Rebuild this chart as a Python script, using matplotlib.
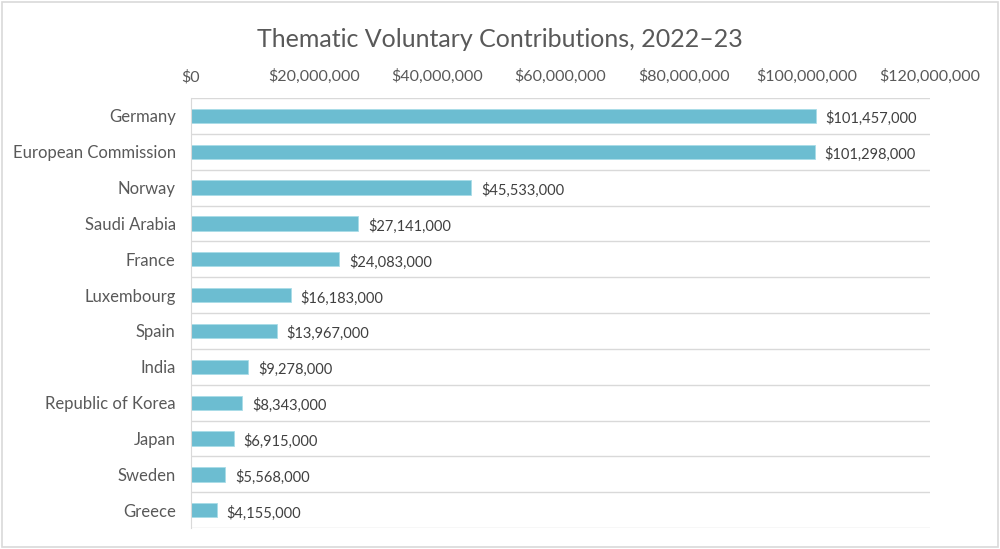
import matplotlib
matplotlib.use("Agg")
import matplotlib.pyplot as plt
from matplotlib.patches import Rectangle

plt.rcParams["font.family"] = ["Lato", "DejaVu Sans"]

donors = [
    "Germany", "European Commission", "Norway", "Saudi Arabia", "France",
    "Luxembourg", "Spain", "India", "Republic of Korea", "Japan", "Sweden", "Greece",
]
amounts = [
    101457000, 101298000, 45533000, 27141000, 24083000,
    16183000, 13967000, 9278000, 8343000, 6915000, 5568000, 4155000,
]
xticks = [0, 20000000, 40000000, 60000000, 80000000, 100000000, 120000000]

text_color = "#595959"
bar_color = "#6CBDD1"
grid_color = "#D9D9D9"

fig = plt.figure(figsize=(10, 5.49), dpi=100)
ax = fig.add_axes([0.191, 0.038, 0.739, 0.7835])

ypos = list(range(len(donors)))
ax.barh(ypos, amounts, height=0.4, color=bar_color, edgecolor="#A8DCE8", linewidth=0.6)

for y, v in zip(ypos, amounts):
    ax.annotate(f"${v:,.0f}", (v, y), xytext=(7, -2), textcoords="offset points",
                va="center", ha="left", fontsize=10.5, color="#404040")

ax.set_xlim(0, 120000000)
ax.set_ylim(len(donors) - 0.5, -0.5)
ax.set_xticks(xticks)
ax.set_xticklabels([f"${t:,.0f}" for t in xticks])
ax.xaxis.tick_top()
ax.tick_params(axis="x", length=0, pad=10, labelsize=11.5, labelcolor=text_color)
ax.set_yticks(ypos)
ax.set_yticklabels(donors)
ax.tick_params(axis="y", length=0, pad=11, labelsize=12, labelcolor=text_color)

# horizontal lines between categories
ax.set_yticks([y + 0.5 for y in range(-1, len(donors))], minor=True)
ax.tick_params(axis="y", which="minor", length=0)
ax.grid(axis="y", which="minor", color=grid_color, linewidth=1)
ax.grid(axis="y", which="major", visible=False)

for s in ["top", "right", "bottom"]:
    ax.spines[s].set_visible(False)
ax.spines["left"].set_color(grid_color)

fig.text(0.5, 0.928, "Thematic Voluntary Contributions, 2022\u201323", ha="center",
         va="center", fontsize=18, color=text_color)

fig.patches.append(Rectangle((0.002, 0.003), 0.996, 0.994, transform=fig.transFigure,
                             fill=False, edgecolor="#D9D9D9", linewidth=1.2))

fig.savefig("out.png", dpi=100)
